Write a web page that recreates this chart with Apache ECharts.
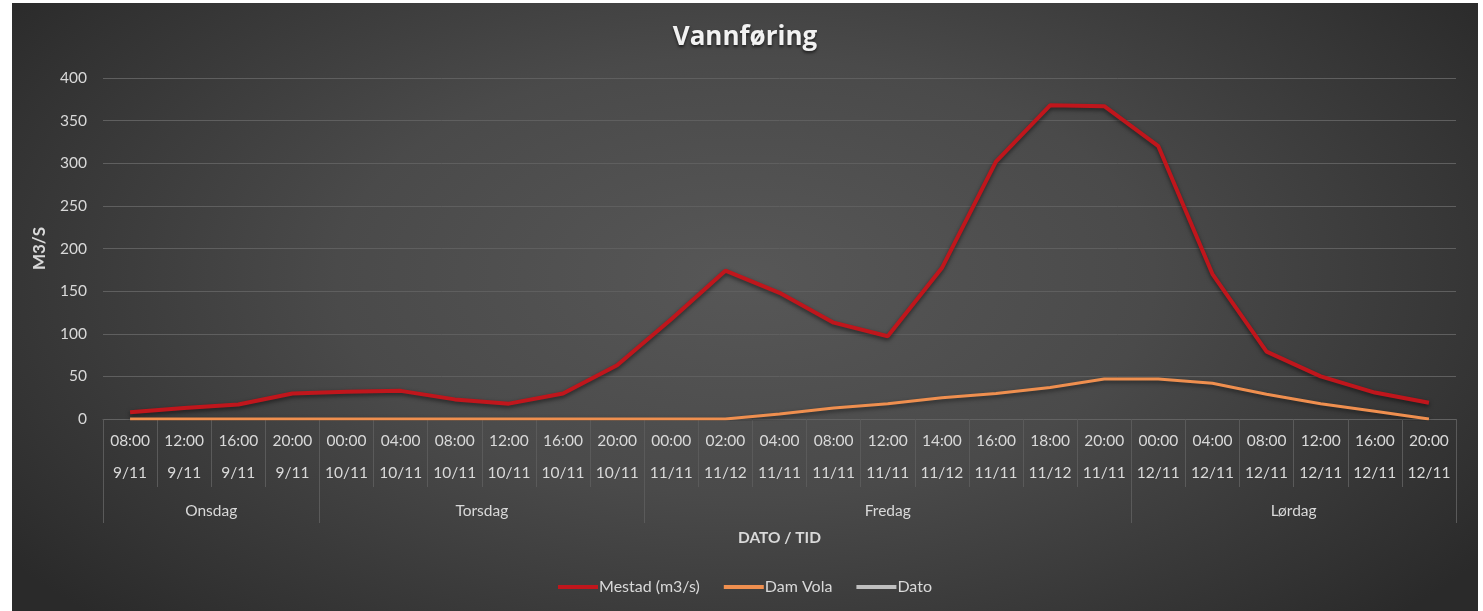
<!DOCTYPE html>
<html>
<head>
<meta charset="utf-8">
<script src="https://cdn.jsdelivr.net/npm/echarts@6/dist/echarts.min.js"></script>
<style>
  html, body { margin: 0; padding: 0; background: #ffffff; width: 1483px; height: 611px; overflow: hidden; }
  #chart {
    position: absolute; left: 12px; top: 3px; width: 1466px; height: 608px;
    background: radial-gradient(ellipse 62% 80% at 50% 45%, #575757 0%, #4a4a4a 45%, #333333 85%, #2a2a2a 100%);
  }
</style>
</head>
<body>
<div id="chart"></div>
<script>
// ---- data ----
const times = ['08:00','12:00','16:00','20:00','00:00','04:00','08:00','12:00','16:00','20:00','00:00','02:00','04:00','08:00','12:00','14:00','16:00','18:00','20:00','00:00','04:00','08:00','12:00','16:00','20:00'];
const dates = ['9/11','9/11','9/11','9/11','10/11','10/11','10/11','10/11','10/11','10/11','11/11','11/12','11/11','11/11','11/11','11/12','11/11','11/12','11/11','12/11','12/11','12/11','12/11','12/11','12/11'];
const days = ['Onsdag','Torsdag','Fredag','Lørdag'];
const daySpans = [4, 6, 9, 6];
const mestad = [8, 13, 17, 30, 32, 33, 23, 18, 30, 63, 117, 174, 148, 113, 97, 177, 302, 368, 367, 320, 170, 79, 50, 31, 19];
const damVola = [0, 0, 0, 0, 0, 0, 0, 0, 0, 0, 0, 0, 6, 13, 18, 25, 30, 37, 47, 47, 42, 29, 18, 9, 0];
const dato = [];
const yTicks = [0, 50, 100, 150, 200, 250, 300, 350, 400];

// ---- derived axis helpers ----
const categories = times.map((t, i) => t + '\n' + dates[i]);
const dayBounds = [0];
daySpans.forEach(s => dayBounds.push(dayBounds[dayBounds.length - 1] + s));
const dayCenters = daySpans.map((s, i) => dayBounds[i] + s / 2);
const total = dayBounds[dayBounds.length - 1];

const FONT = 'Lato, "Open Sans", sans-serif';
const txt = '#d9d9d9';

const chart = echarts.init(document.getElementById('chart'), null, { renderer: 'canvas' });
chart.setOption({
  backgroundColor: 'transparent',
  animation: false,
  title: {
    text: 'Vannføring',
    left: 'center',
    top: 17,
    textStyle: { color: '#f2f2f2', fontSize: 26, fontWeight: 'bold', fontFamily: '"Open Sans", sans-serif',
      textShadowColor: 'rgba(0,0,0,0.6)', textShadowBlur: 3, textShadowOffsetY: 2 }
  },
  legend: {
    bottom: 11,
    left: 'center',
    itemWidth: 40,
    itemHeight: 4,
    itemGap: 24,
    icon: 'rect',
    textStyle: { color: txt, fontSize: 16, fontFamily: FONT, padding: [0, 0, 0, -4] },
    data: ['Mestad (m3/s)', 'Dam Vola', 'Dato']
  },
  grid: { left: 91, right: 22, top: 75, bottom: 192, containLabel: false },
  xAxis: [
    {
      type: 'category',
      data: categories,
      boundaryGap: true,
      axisLine: { show: true, lineStyle: { color: '#626262', width: 1 } },
      axisTick: { show: true, interval: 0, length: 68, lineStyle: { color: '#5a5a5a' } },
      axisLabel: { interval: 0, color: txt, fontSize: 15.5, fontFamily: FONT, lineHeight: 32, margin: 6 },
      splitLine: { show: false }
    },
    {
      type: 'value',
      min: 0,
      max: total,
      position: 'bottom',
      axisLine: { show: false },
      axisTick: { show: true, customValues: dayBounds, length: 104, lineStyle: { color: '#5a5a5a' } },
      axisLabel: {
        show: true, customValues: dayCenters, margin: 84, color: txt, fontSize: 15.5, fontFamily: FONT,
        formatter: v => { const i = dayCenters.indexOf(v); return i >= 0 ? days[i] : ''; }
      },
      splitLine: { show: false },
      name: 'DATO / TID',
      nameLocation: 'middle',
      nameGap: 111,
      nameTextStyle: { color: txt, fontSize: 15.5, fontWeight: 'bold', fontFamily: FONT }
    }
  ],
  yAxis: {
    type: 'value',
    min: yTicks[0],
    max: yTicks[yTicks.length - 1],
    interval: 50,
    axisLine: { show: false },
    axisTick: { show: false },
    axisLabel: { color: txt, fontSize: 15.5, fontFamily: FONT, margin: 16 },
    splitLine: { show: true, lineStyle: { color: '#5f5f5f', width: 1 } },
    name: 'M3/S',
    nameLocation: 'middle',
    nameGap: 55,
    nameRotate: 90,
    nameTextStyle: { color: txt, fontSize: 17, fontWeight: 'bold', fontFamily: FONT }
  },
  series: [
    {
      name: 'Mestad (m3/s)', type: 'line', xAxisIndex: 0, data: mestad,
      symbol: 'none', color: '#c0161c',
      lineStyle: { color: '#c0161c', width: 4, shadowColor: 'rgba(0,0,0,0.55)', shadowBlur: 4, shadowOffsetY: 2 },
      z: 3
    },
    {
      name: 'Dam Vola', type: 'line', xAxisIndex: 0, data: damVola,
      symbol: 'none', color: '#ef8f4f',
      lineStyle: { color: '#ef8f4f', width: 3, shadowColor: 'rgba(0,0,0,0.5)', shadowBlur: 4, shadowOffsetY: 2 },
      z: 4
    },
    {
      name: 'Dato', type: 'line', xAxisIndex: 0, data: dato,
      symbol: 'none', color: '#bfbfbf',
      lineStyle: { color: '#bfbfbf', width: 4 }
    }
  ]
});
</script>
</body>
</html>
